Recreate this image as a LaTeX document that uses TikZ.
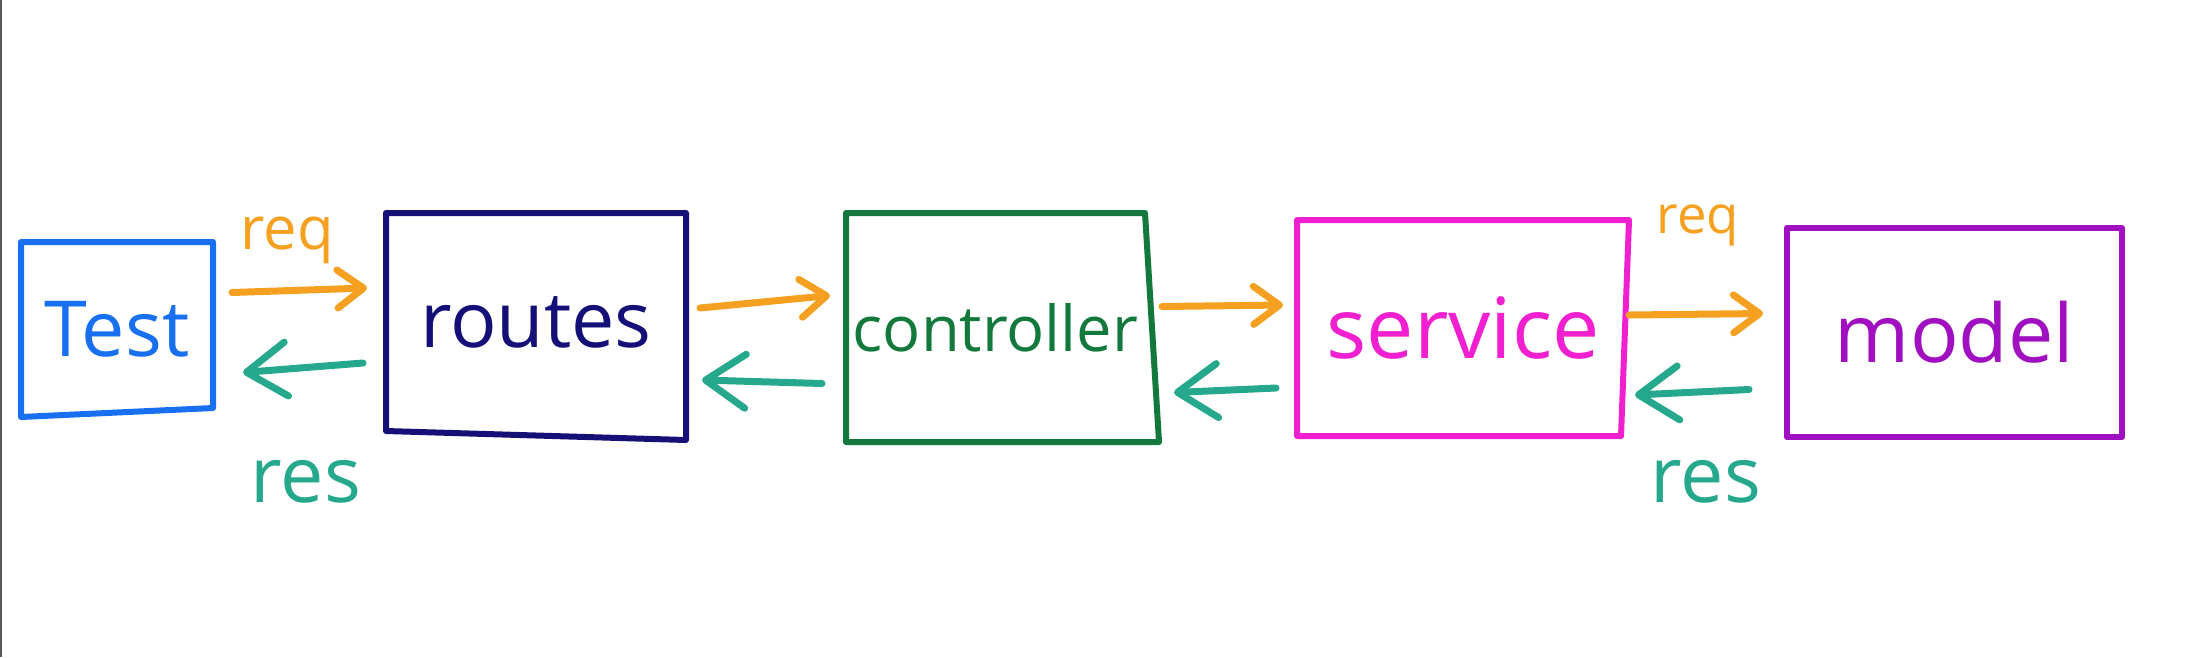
\documentclass[tikz,border=0pt]{standalone}
\usepackage{fontspec}
\setmainfont{Open Sans}
\usetikzlibrary{arrows.meta,calc}
\definecolor{testblue}{RGB}{24,112,240}
\definecolor{routesnavy}{RGB}{20,16,120}
\definecolor{ctrlgreen}{RGB}{18,120,60}
\definecolor{servmagenta}{RGB}{240,32,208}
\definecolor{modelpurple}{RGB}{160,16,192}
\definecolor{reqorange}{RGB}{245,160,32}
\definecolor{resteal}{RGB}{38,168,140}

\begin{document}
\begin{tikzpicture}[x=0.1mm, y=-0.1mm,
    box/.style={inner sep=0pt, outer sep=0pt, font=\fontsize{#1}{#1}\selectfont},
    word/.style={inner sep=0pt, font=\fontsize{#1}{#1}\selectfont},
    edge/.style={draw=#1, line width=0.6mm, line join=round, line cap=round},
    req/.style={reqorange, line width=0.7mm, line cap=round, -{Straight Barb[length=2.6mm, width=3.8mm, round]}},
    res/.style={resteal,   line width=0.7mm, line cap=round, -{Straight Barb[length=4mm, width=5.4mm, round]}}]
    \useasboundingbox (0,0) rectangle (2193,657);
    \draw[gray!70!black, line width=0.15mm] (1,0) -- (1,657);

    \node[box=22pt, text=testblue,    minimum width=19.2mm, minimum height=17.5mm] (test)    at ( 117.0, 329.5) {Test};
    \node[box=22pt, text=routesnavy,  minimum width=30.0mm, minimum height=21.8mm] (routes)  at ( 536.0, 322.0) {routes};
    \node[box=18pt, text=ctrlgreen,   minimum width=29.9mm, minimum height=22.9mm] (ctrl)    at ( 995.5, 327.5) {controller};
    \node[box=24pt, text=servmagenta, minimum width=33.2mm, minimum height=21.6mm] (service) at (1463.0, 328.0) {service};
    \node[box=23pt, text=modelpurple, minimum width=33.5mm, minimum height=20.9mm] (model)   at (1954.5, 332.5) {model};

    \draw[edge=testblue]    (test.north west)    -- (test.north east)    -- ($(test.south east)+(0,-9)$)     -- (test.south west)    -- cycle;
    \draw[edge=routesnavy]  (routes.north west)  -- (routes.north east)  -- ($(routes.south east)+(0,9)$)    -- (routes.south west)  -- cycle;
    \draw[edge=ctrlgreen]   (ctrl.north west)    -- (ctrl.north east)    -- ($(ctrl.south east)+(14,0)$)     -- (ctrl.south west)    -- cycle;
    \draw[edge=servmagenta] (service.north west) -- (service.north east) -- ($(service.south east)+(-8,0)$)  -- (service.south west) -- cycle;
    \draw[edge=modelpurple] (model.north west) rectangle (model.south east);

    \draw[req] ($(test.east)+(19,-37)$)    -- ($(routes.west)+(-19,-34)$);
    \draw[res] ($(routes.west)+(-23,41)$)  -- ($(test.east)+(30,43)$);
    \draw[req] ($(routes.east)+(14,-14)$)  -- ($(ctrl.west)+(-16,-32)$);
    \draw[res] ($(ctrl.west)+(-24,56)$)    -- ($(routes.east)+(16,58)$);
    \draw[req] ($(ctrl.east)+(17,-21)$)    -- ($(service.west)+(-14,-23)$);
    \draw[res] ($(service.west)+(-21,60)$) -- ($(ctrl.east)+(29,65)$);
    \draw[req] ($(service.east)+(0,-13)$)  -- ($(model.west)+(-24,-19)$);
    \draw[res] ($(model.west)+(-38,57)$)   -- ($(service.east)+(6,67)$);

    \node[word=17pt, text=reqorange] (req1) at ( 287,240) {req};
    \node[word=22pt, text=resteal]   (res1) at ( 306,482) {res};
    \node[word=15pt, text=reqorange] (req2) at (1698,225) {req};
    \node[word=22pt, text=resteal]   (res2) at (1706,482) {res};
\end{tikzpicture}
\end{document}
